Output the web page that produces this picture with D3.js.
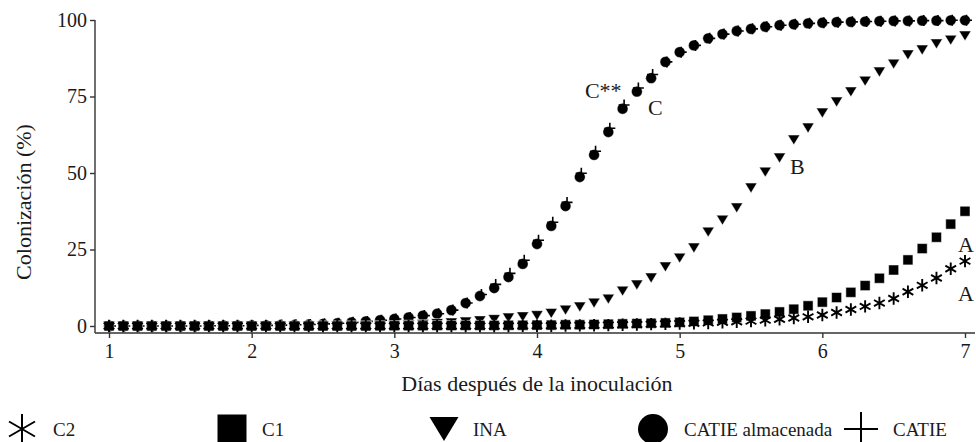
<!DOCTYPE html>
<html><head><meta charset="utf-8">
<script src="https://cdn.jsdelivr.net/npm/d3@7"></script>
<style>
html,body{margin:0;padding:0;background:#fff;}
</style></head>
<body>
<svg id="chart" width="976" height="442"></svg>
<script>
// ---- data ----
const days = d3.range(0, 61).map(i => +(1 + i * 0.1).toFixed(1));
const xTicks = [1, 2, 3, 4, 5, 6, 7];
const yTicks = [0, 25, 50, 75, 100];
const seriesNames = ["C2", "C1", "INA", "CATIE almacenada", "CATIE"];

const c2 = [0,0,0,0,0,0,0,0,0,0, 0,0,0,0,0,0,0,0,0,0, 0,0,0,0,0,0,0,0,0,0.05,
  0.1,0.1,0.15,0.2,0.25,0.3,0.4,0.5,0.6,0.7, 0.8,0.9,1.0,1.2,1.4,1.6,1.9,2.2,2.6,3.0,
  3.6,4.4,5.4,6.4,7.5,9.0,11.2,13.3,15.7,18.7,21.2];
const c1 = [0,0,0,0,0,0,0,0,0,0, 0,0,0,0,0,0,0,0,0,0.05, 0.1,0.1,0.1,0.15,0.15,0.2,0.2,0.2,0.25,0.25,
  0.3,0.3,0.4,0.4,0.5,0.6,0.7,0.8,0.9,1.0, 1.2,1.5,1.9,2.3,2.8,3.3,3.9,4.6,5.5,6.6,
  7.8,9.3,11.0,13.2,15.6,18.3,21.6,25.3,29.0,33.3,37.5];
const ina = [0,0,0,0,0,0,0,0,0,0, 0,0,0,0,0,0,0,0,0,0, 0.1,0.3,0.5,0.8,1.0,1.3,1.7,2.1,2.6,3.0,
  3.4,4.1,5.2,6.2,7.5,8.8,11.4,13.4,15.7,19.3, 22.2,25.5,30.7,34.6,38.6,45.1,50.3,54.9,60.8,64.7,
  69.6,73.2,76.5,80.0,83.0,85.6,88.6,90.2,92.2,93.4,94.8];
const catieAlm = [0,0,0,0,0,0,0,0.1,0.1,0.1, 0.2,0.2,0.3,0.4,0.5,0.7,0.9,1.2,1.5,1.9,
  2.3,2.8,3.4,4.0,5.2,7.5,9.8,12.4,16.0,20.3, 26.8,32.7,39.2,48.7,55.9,63.4,71.0,76.6,81.0,86.3,
  89.5,91.7,94.0,95.4,96.4,97.1,97.8,98.3,98.6,98.9, 99.1,99.3,99.4,99.5,99.6,99.7,99.7,99.8,99.8,99.9,99.9];
const catie = [0,0,0,0,0,0,0,0.1,0.1,0.1, 0.2,0.2,0.3,0.4,0.5,0.7,0.9,1.2,1.5,1.9,
  2.3,2.8,3.4,4.0,5.2,7.5,10.3,13.6,17.2,21.5, 28.0,33.9,40.4,49.9,57.1,64.6,72.2,77.8,82.2,86.3,
  89.5,91.7,94.0,95.4,96.4,97.1,97.8,98.3,98.6,98.9, 99.1,99.3,99.4,99.5,99.6,99.7,99.7,99.8,99.8,99.9,99.9];

const labelsText = ["C**", "C", "B", "A", "A"];
const labelsAt = [[4.336, 74.5], [4.778, 69.0], [5.773, 49.7], [6.951, 24.2], [6.951, 8.3]];

// ---- layout ----
const FONT = "Liberation Serif";
const svg = d3.select("#chart");
const x = d3.scaleLinear().domain([1, 7]).range([109, 965]);
const y = d3.scaleLinear().domain([0, 100]).range([326, 20]);
const axisY = 333, axisX = 95, axisRight = 975;
const ink = "#1a1a1a";

// axes lines
svg.append("line").attr("x1", axisX).attr("x2", axisRight).attr("y1", axisY).attr("y2", axisY)
  .attr("stroke", "#333").attr("stroke-width", 1.4);
svg.append("line").attr("x1", axisX).attr("x2", axisX).attr("y1", y(100)).attr("y2", axisY)
  .attr("stroke", "#333").attr("stroke-width", 1.4);

// x ticks
const xAxis = d3.axisBottom(x).tickValues(xTicks).tickFormat(d3.format("d")).tickSize(5).tickPadding(6);
const gx = svg.append("g").attr("transform", `translate(0,${axisY})`).call(xAxis)
  .attr("font-family", FONT).attr("font-size", 20);
gx.select(".domain").remove();
gx.selectAll("line").attr("stroke", "#333").attr("stroke-width", 1.4);
gx.selectAll("text").attr("fill", ink);

// y ticks
const yAxis = d3.axisLeft(y).tickValues(yTicks).tickSize(5).tickPadding(3);
const gy = svg.append("g").attr("transform", `translate(${axisX},0)`).call(yAxis)
  .attr("font-family", FONT).attr("font-size", 20);
gy.select(".domain").remove();
gy.selectAll("line").attr("stroke", "#333").attr("stroke-width", 1.4);
gy.selectAll("text").attr("fill", ink);

// titles
svg.append("text").attr("x", 537).attr("y", 391).attr("text-anchor", "middle")
  .attr("font-family", FONT).attr("font-size", 22).attr("fill", ink).text("Días después de la inoculación");
svg.append("text").attr("transform", "translate(31,202) rotate(-90)")
  .attr("text-anchor", "middle").attr("font-family", FONT).attr("font-size", 22).attr("fill", ink)
  .text("Colonización (%)");

// marker shapes
function asteriskPath(r) {
  const p = d3.path();
  for (const a of [90, 30, 150]) {
    const t = a * Math.PI / 180;
    p.moveTo(-r * Math.cos(t), -r * Math.sin(t));
    p.lineTo(r * Math.cos(t), r * Math.sin(t));
  }
  return p.toString();
}
function plusPath(r) { return `M${-r},0L${r},0M0,${-r}L0,${r}`; }
function trianglePath(w) {
  const h = w * 0.82;
  return `M${-w / 2},${-h / 2}L${w / 2},${-h / 2}L0,${h / 2}Z`;
}
function squarePath(s) { return `M${-s / 2},${-s / 2}h${s}v${s}h${-s}Z`; }
function circlePath(r) { return d3.symbol(d3.symbolCircle, Math.PI * r * r)(); }

const styles = {
  "CATIE almacenada": { d: circlePath(5.4), fill: "#000", stroke: "#fff", sw: 0.4 },
  "CATIE": { d: plusPath(5.5), fill: "none", stroke: "#000", sw: 1.6, dx: 1.5 },
  "INA": { d: trianglePath(12), fill: "#000", stroke: "#fff", sw: 0.5 },
  "C1": { d: squarePath(10), fill: "#000", stroke: "#fff", sw: 0.5 },
  "C2": { d: asteriskPath(6.2), fill: "none", stroke: "#000", sw: 1.9 }
};
const seriesData = { "C2": c2, "C1": c1, "INA": ina, "CATIE almacenada": catieAlm, "CATIE": catie };
const drawOrder = ["CATIE almacenada", "CATIE", "INA", "C1", "C2"];

drawOrder.forEach(name => {
  const st = styles[name];
  svg.append("g").selectAll("path").data(days.map((d, i) => [d, seriesData[name][i]]))
    .join("path")
    .attr("transform", d => `translate(${x(d[0]) + (st.dx || 0)},${y(d[1])})`)
    .attr("d", st.d).attr("fill", st.fill).attr("stroke", st.stroke).attr("stroke-width", st.sw);
});

// letter annotations
svg.append("g").attr("font-family", FONT).attr("font-size", 22)
  .selectAll("text").data(labelsText).join("text")
  .attr("x", (d, i) => x(labelsAt[i][0])).attr("y", (d, i) => y(labelsAt[i][1]))
  .attr("fill", ink).text(d => d);

// legend
const legendMarkX = [22, 232, 444, 653, 861];
const legendTextX = [53, 262, 473, 684, 893];
const legendStyles = {
  "C2": { d: asteriskPath(15), fill: "none", stroke: "#000", sw: 2 },
  "C1": { d: squarePath(29), fill: "#000", stroke: "none", sw: 0 },
  "INA": { d: trianglePath(29), fill: "#000", stroke: "none", sw: 0 },
  "CATIE almacenada": { d: circlePath(15), fill: "#000", stroke: "none", sw: 0 },
  "CATIE": { d: plusPath(17), fill: "none", stroke: "#000", sw: 2 }
};
const leg = svg.append("g").attr("font-family", FONT).attr("font-size", 19);
seriesNames.forEach((name, i) => {
  const st = legendStyles[name];
  leg.append("path").attr("transform", `translate(${legendMarkX[i]},429)`)
    .attr("d", st.d).attr("fill", st.fill).attr("stroke", st.stroke).attr("stroke-width", st.sw);
  leg.append("text").attr("x", legendTextX[i]).attr("y", 436)
    .attr("fill", ink).text(name);
});
</script>
</body></html>
